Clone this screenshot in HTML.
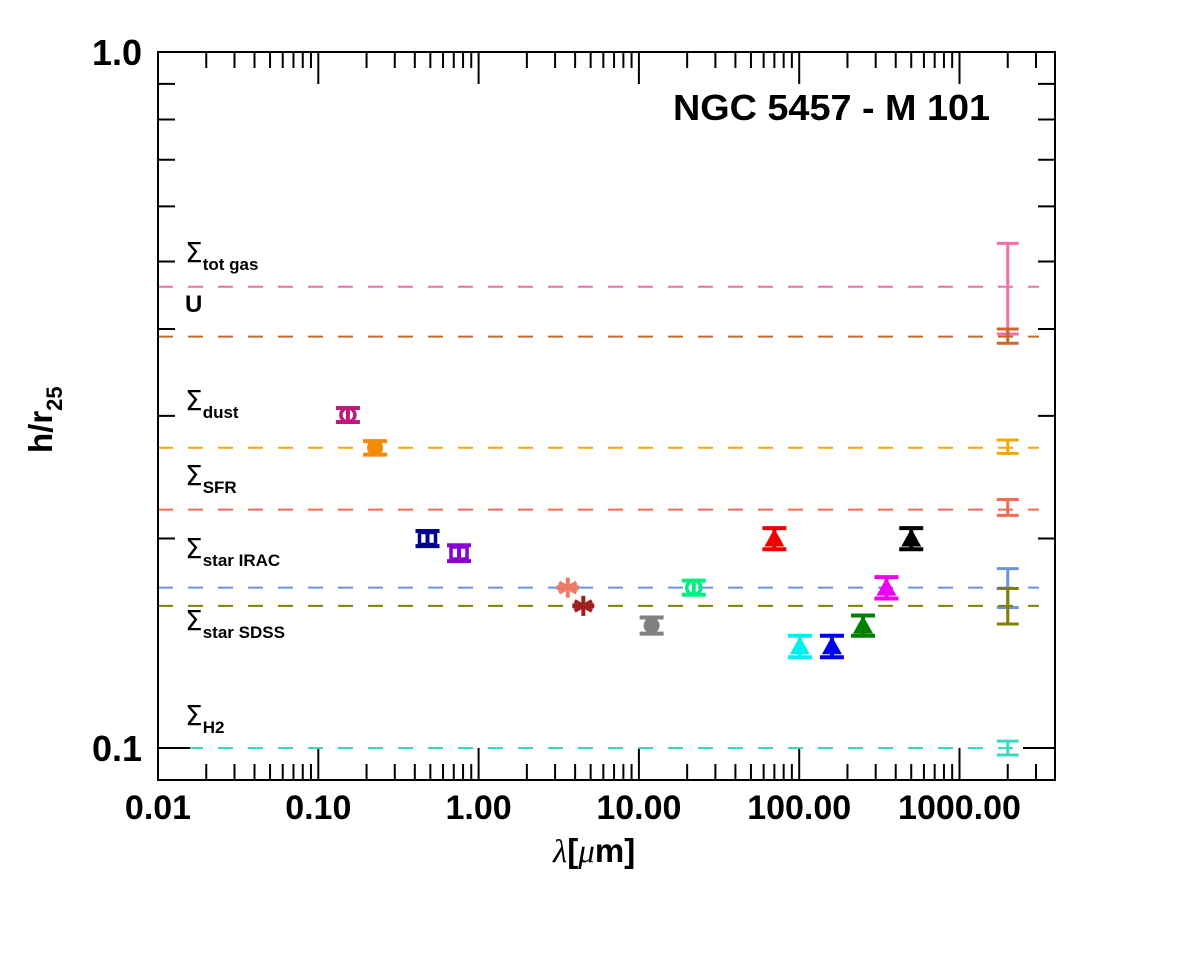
<!DOCTYPE html>
<html><head><meta charset="utf-8"><style>
html,body{margin:0;padding:0;background:#fff;}
svg text{font-family:"Liberation Sans",sans-serif;font-weight:bold;}
</style></head><body>
<svg id="chart" width="1200" height="963" viewBox="0 0 1200 963" xmlns="http://www.w3.org/2000/svg">
<rect x="0" y="0" width="1200" height="963" fill="#fff"/>
<g id="grid"></g>
<rect x="158" y="52" width="897" height="728" fill="none" stroke="#000" stroke-width="2"/>
<text x="673" y="120" font-size="36" textLength="317" lengthAdjust="spacingAndGlyphs">NGC 5457 - M 101</text>
<text transform="translate(52,453) rotate(-90)" font-size="33">h/r<tspan font-size="22" dy="10">25</tspan></text>
<text x="553" y="862" font-size="33"><tspan font-family="Liberation Serif" font-style="italic" font-weight="normal">λ</tspan>[<tspan font-family="Liberation Serif" font-style="italic" font-weight="normal">μ</tspan>m]</text>
</svg>
<script>
const xTickVals=[0.01,0.1,1,10,100,1000];
const xTickLabels=["0.01","0.10","1.00","10.00","100.00","1000.00"];
const yTickVals=[1.0,0.1];
const yTickLabels=["1.0","0.1"];
const refLabelMain=["tot gas","U","dust","SFR","star IRAC","star SDSS","H2"];
const refLevels=[0.46,0.39,0.270,0.22,0.170,0.160,0.100];
const refColors=["#f46ea8","#c8692a","#f5a800","#f26a50","#6a94dc","#808000","#3ed8c0"];
const refErrLo=[0.3934,0.3815,0.265,0.2159,0.1592,0.1507,0.0977];
const refErrHi=[0.531,0.400,0.277,0.2275,0.181,0.1695,0.1023];
const refErrX=2000;
const labelY=[262,312,410,485,558,630,725];
const ptLambda=[0.153,0.226,0.48,0.755,3.6,4.5,12,22,70,101,160,250,350,500];
const ptH=[0.301,0.270,0.200,0.1906,0.170,0.160,0.150,0.170,0.200,0.140,0.140,0.150,0.170,0.200];
const ptErr=[0.007,0.006,0.005,0.005,0.0,0.0,0.004,0.004,0.007,0.005,0.005,0.005,0.006,0.007];
const ptShape=["ocircle","circle","osquare","osquare","star","star","circle","ocircle","tri","tri","tri","tri","tri","tri"];
const ptColors=["#c0187c","#f58a00","#000090","#8a00d0","#f07868","#a02020","#808080","#00f080","#f00000","#00f0f0","#0000f0","#008000","#f000f0","#000000"];

const X0=158,X1=1055,Y0=52,Y1=780,PXD=160.3,PYD=696;
function sx(v){return X0+(Math.log10(v)+2)*PXD;}
function sy(v){return Y0-Math.log10(v)*PYD;}
const NS="http://www.w3.org/2000/svg";
const svg=document.getElementById('chart');
const g=document.getElementById('grid');
function mk(tag,attrs,parent){const e=document.createElementNS(NS,tag);for(const k in attrs)e.setAttribute(k,attrs[k]);(parent||g).appendChild(e);return e;}

for(let d=-2;d<=3;d++){
  for(let m=1;m<10;m++){
    const v=m*Math.pow(10,d);const x=sx(v);
    if(x>X1)continue;
    const len=m===1?32:16;
    const t1=mk('line',{x1:x,x2:x,y1:Y1,y2:Y1-len,stroke:'#000','stroke-width':2});
    
    
    const t2=mk('line',{x1:x,x2:x,y1:Y0,y2:Y0+len,stroke:'#000','stroke-width':2});
    
    
  }
}
xTickVals.forEach((v,i)=>{
  const t=mk('text',{x:sx(v),y:819,'font-size':34,'text-anchor':'middle'},svg);
  t.textContent=xTickLabels[i];
  
  
});
yTickVals.forEach((v,i)=>{
  const t=mk('text',{x:142,y:sy(v)+13,'font-size':36,'text-anchor':'end'},svg);
  t.textContent=yTickLabels[i];
  
  
});
refLevels.forEach((v,i)=>{
  const y=sy(v);
  const l=mk('line',{x1:X0,x2:X1-16,y1:y,y2:y,stroke:refColors[i],'stroke-width':2,'stroke-dasharray':'15 15'});
  
  
  const t=mk('text',{x:185,y:labelY[i],'font-size':i===1?24:26},svg);
  if(i===1){t.textContent='U';}
  else{t.innerHTML='<tspan font-weight="normal" font-family="DejaVu Sans" font-size="28">Σ</tspan><tspan font-size="17" dy="8">'+refLabelMain[i]+'</tspan>';}
  
  
  const xe=sx(refErrX),ylo=sy(refErrLo[i]),yhi=sy(refErrHi[i]);
  const eb=mk('path',{d:`M${xe},${ylo}V${yhi}M${xe-11},${ylo}h22M${xe-11},${yhi}h22`,stroke:refColors[i],'stroke-width':3,fill:'none'});
  
  
});
for(let m=1;m<=10;m++){
  const v=m/10;const y=sy(v);
  const len=(m===1||m===10)?32:17;
  const a=mk('line',{x1:X0,x2:X0+len,y1:y,y2:y,stroke:'#000','stroke-width':2});
  
  
  const b=mk('line',{x1:X1,x2:X1-len,y1:y,y2:y,stroke:'#000','stroke-width':2});
  
  
}
ptLambda.forEach((lam,i)=>{
  const x=sx(lam),y=sy(ptH[i]),c=ptColors[i];
  const grp=mk('g',{});
  
  
  const s=ptShape[i];
  if(s==='ocircle')mk('circle',{cx:x,cy:y,r:7,fill:'none',stroke:c,'stroke-width':3.5},grp);
  else if(s==='circle')mk('circle',{cx:x,cy:y,r:8,fill:c},grp);
  else if(s==='osquare')mk('rect',{x:x-8,y:y-6,width:16,height:12,fill:'none',stroke:c,'stroke-width':3.5},grp);
  else if(s==='tri')mk('path',{d:`M${x},${y-10}L${x+10},${y+8}L${x-10},${y+8}Z`,fill:c},grp);
  else if(s==='star'){let d='';for(let k=0;k<3;k++){const a=Math.PI*k/3+Math.PI/2;d+=`M${x-10*Math.cos(a)},${y-10*Math.sin(a)}L${x+10*Math.cos(a)},${y+10*Math.sin(a)}`;}mk('path',{d:d,stroke:c,'stroke-width':4},grp);}
  const e=ptErr[i];
  const yl=sy(ptH[i]-e),yh=sy(ptH[i]+e);
  if(e>0)mk('path',{d:`M${x},${yl}V${yh}M${x-12},${yl}h24M${x-12},${yh}h24`,stroke:c,'stroke-width':4,fill:'none'},grp);
  else mk('path',{d:`M${x-11},${y}h22`,stroke:c,'stroke-width':5,fill:'none'},grp);
});
</script>
</body></html>
